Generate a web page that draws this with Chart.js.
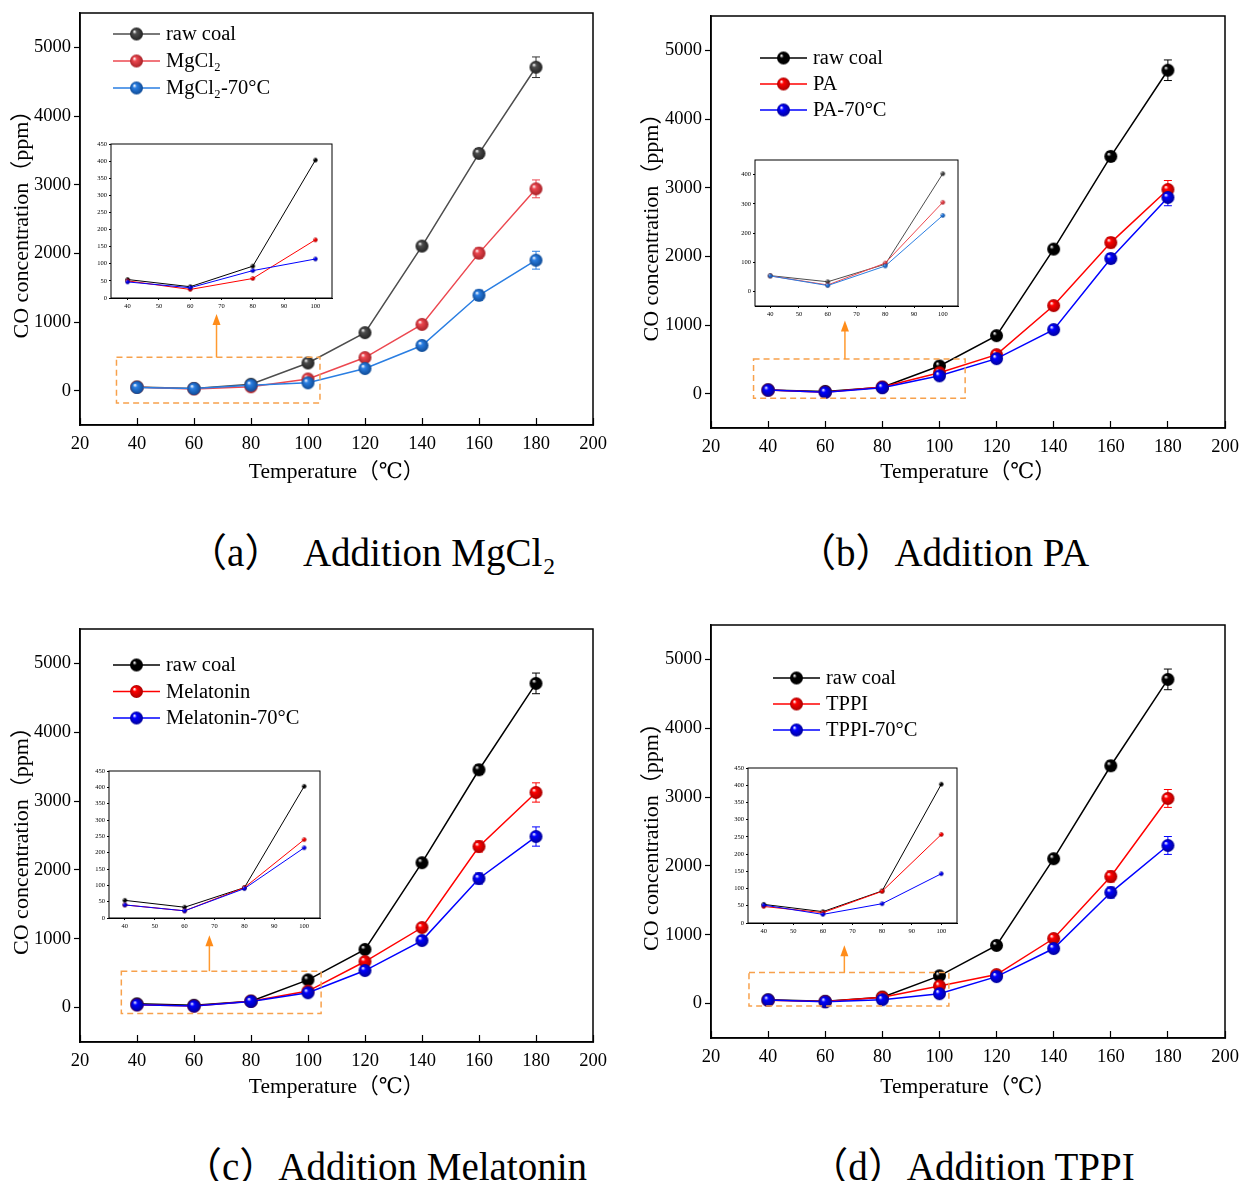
<!DOCTYPE html>
<html>
<head>
<meta charset="utf-8">
<script src="https://cdn.jsdelivr.net/npm/chart.js@4.4.1/dist/chart.umd.min.js"></script>
<style>
  body { margin: 0; background: #fff; width: 1241px; height: 1181px; position: relative; overflow: hidden; }
  canvas { position: absolute; }
  .cap { position: absolute; font-family: "Liberation Serif", "Noto Sans CJK SC", serif; font-size: 39px; line-height: 39px; white-space: nowrap; transform: translateX(-50%); color: #000; }
</style>
</head>
<body>
<canvas id="mainA" width="610" height="500" style="left:0;top:0"></canvas>
<canvas id="mainB" width="621" height="500" style="left:620px;top:0"></canvas>
<canvas id="mainC" width="610" height="500" style="left:0;top:615px"></canvas>
<canvas id="mainD" width="621" height="500" style="left:620px;top:615px"></canvas>
<canvas id="insetA" width="252" height="176" style="left:86px;top:136px"></canvas>
<canvas id="insetB" width="236" height="168" style="left:730px;top:152px"></canvas>
<canvas id="insetC" width="244" height="169" style="left:84px;top:763px"></canvas>
<canvas id="insetD" width="242" height="177" style="left:723px;top:760px"></canvas>
<div class="cap" style="left:372px;top:533px">（a）　Addition MgCl₂</div>
<div class="cap" style="left:943px;top:533px">（b）Addition PA</div>
<div class="cap" style="left:385px;top:1147px">（c）Addition Melatonin</div>
<div class="cap" style="left:972px;top:1147px">（d）Addition TPPI</div>
<script>
// temperatures (°C) and CO concentration (ppm)
const temps = [40, 60, 80, 100, 120, 140, 160, 180];
const rawCoal = [54, 33, 93, 403, 845, 2105, 3455, 4710];
const rawCoalErr = [12, 10, 15, 25, 35, 45, 70, 150];
const mgcl2 = [50, 25, 57, 170, 482, 965, 2003, 2939];
const mgcl2Err = [10, 8, 12, 20, 30, 40, 75, 130];
const mgcl2_70 = [47, 30, 80, 114, 322, 658, 1389, 1900];
const mgcl2_70Err = [10, 8, 12, 18, 28, 40, 75, 130];
const pa = [53, 22, 97, 305, 568, 1283, 2200, 2974];
const paErr = [10, 8, 12, 20, 30, 40, 75, 130];
const pa70 = [53, 20, 87, 260, 510, 933, 1968, 2857];
const pa70Err = [10, 8, 12, 20, 30, 40, 70, 120];
const melatonin = [40, 22, 93, 240, 669, 1163, 2340, 3125];
const melatoninErr = [10, 8, 12, 20, 30, 40, 80, 140];
const melatonin70 = [40, 22, 90, 215, 538, 974, 1875, 2485];
const melatonin70Err = [10, 8, 12, 20, 30, 40, 80, 140];
const tppi = [48, 30, 92, 257, 421, 945, 1846, 2980];
const tppiErr = [10, 8, 12, 20, 30, 40, 80, 130];
const tppi70 = [52, 25, 56, 143, 392, 800, 1613, 2297];
const tppi70Err = [10, 8, 12, 20, 30, 40, 80, 130];

const xTicks = [20, 40, 60, 80, 100, 120, 140, 160, 180, 200];
const yTicks = [0, 1000, 2000, 3000, 4000, 5000];
const insetXTicks = [40, 50, 60, 70, 80, 90, 100];
const insetYTicks = [0, 50, 100, 150, 200, 250, 300, 350, 400, 450];
const insetYTicksPA = [0, 100, 200, 300, 400];

const SERIF = '"Liberation Serif", "DejaVu Serif", "Noto Sans CJK SC", serif';

// colours
const C = {
  black: ['#000000', '#000000'],
  gray: ['#4d4d4d', '#222222'],
  red: ['#ff0000', '#a80000'],
  lred: ['#ec4850', '#a82228'],
  blue: ['#0000ff', '#00009a'],
  lblue: ['#2a7ee2', '#0f4b96']
};

// shaded ball marker
function ball(col, r) {
  const c = document.createElement('canvas');
  const s = Math.ceil(r * 2 + 2);
  c.width = c.height = s;
  const g = c.getContext('2d');
  const m = s / 2;
  const grad = g.createRadialGradient(m - r * 0.35, m - r * 0.4, r * 0.05, m, m, r);
  grad.addColorStop(0, '#ffffff');
  grad.addColorStop(0.28, col[0]);
  grad.addColorStop(1, col[1]);
  g.fillStyle = grad;
  g.beginPath();
  g.arc(m, m, r, 0, Math.PI * 2);
  g.fill();
  return c;
}

const borderBox = {
  id: 'borderBox',
  beforeDatasetsDraw(chart) {
    const a = chart.chartArea, ctx = chart.ctx;
    ctx.save();
    ctx.fillStyle = '#fff';
    if (chart.options.plugins.borderBox.fill) ctx.fillRect(a.left, a.top, a.right - a.left, a.bottom - a.top);
    ctx.restore();
  },
  afterDraw(chart) {
    const a = chart.chartArea, ctx = chart.ctx;
    ctx.save();
    ctx.strokeStyle = '#000';
    ctx.lineWidth = chart.options.plugins.borderBox.width;
    ctx.strokeRect(a.left, a.top, a.right - a.left, a.bottom - a.top);
    ctx.restore();
  }
};

// vertical error bars with caps
const errorBars = {
  id: 'errorBars',
  beforeDatasetsDraw(chart) {
    const ctx = chart.ctx, ys = chart.scales.y;
    chart.data.datasets.forEach((ds, di) => {
      if (!ds.errors) return;
      const meta = chart.getDatasetMeta(di);
      ctx.save();
      ctx.strokeStyle = ds.errColor;
      ctx.lineWidth = 1;
      meta.data.forEach((pt, i) => {
        const v = ds.data[i].y, e = ds.errors[i];
        const y0 = ys.getPixelForValue(v + e), y1 = ys.getPixelForValue(v - e);
        ctx.beginPath();
        ctx.moveTo(pt.x, y0); ctx.lineTo(pt.x, y1);
        ctx.moveTo(pt.x - 4, y0); ctx.lineTo(pt.x + 4, y0);
        ctx.moveTo(pt.x - 4, y1); ctx.lineTo(pt.x + 4, y1);
        ctx.stroke();
      });
      ctx.restore();
    });
  }
};

// legend drawn inside the plot area: line with ball + label
const innerLegend = {
  id: 'innerLegend',
  afterDraw(chart) {
    const o = chart.options.plugins.innerLegend;
    if (!o || !o.show) return;
    const a = chart.chartArea, ctx = chart.ctx;
    ctx.save();
    ctx.font = '20.5px ' + SERIF;
    ctx.textBaseline = 'middle';
    ctx.fillStyle = '#000';
    chart.data.datasets.forEach((ds, i) => {
      const x = a.left + o.dx, y = a.top + o.dy + i * o.gap;
      ctx.strokeStyle = ds.borderColor;
      ctx.lineWidth = 1.5;
      ctx.beginPath(); ctx.moveTo(x, y); ctx.lineTo(x + 47, y); ctx.stroke();
      const img = ds.pointStyle;
      ctx.drawImage(img, x + 23.5 - img.width / 2, y - img.height / 2);
      ctx.fillText(ds.label, x + 53, y + 1);
    });
    ctx.restore();
  }
};

// dashed zoom box and arrow pointing to the inset
const zoomBox = {
  id: 'zoomBox',
  afterDraw(chart) {
    const o = chart.options.plugins.zoomBox;
    if (!o || !o.box) return;
    const xs = chart.scales.x, ys = chart.scales.y, ctx = chart.ctx;
    const b = o.box;
    const l = xs.getPixelForValue(b[0]), r = xs.getPixelForValue(b[1]);
    const t = ys.getPixelForValue(b[3]), btm = ys.getPixelForValue(b[2]);
    ctx.save();
    ctx.strokeStyle = '#f7a14c';
    ctx.lineWidth = 1.5;
    ctx.setLineDash([6, 4]);
    ctx.strokeRect(l, t, r - l, btm - t);
    ctx.setLineDash([]);
    const ax = xs.getPixelForValue(o.arrow[0]), tip = ys.getPixelForValue(o.arrow[1]);
    ctx.strokeStyle = '#ff9a30';
    ctx.fillStyle = '#ff8c1a';
    ctx.beginPath(); ctx.moveTo(ax, t); ctx.lineTo(ax, tip + 9); ctx.stroke();
    ctx.beginPath(); ctx.moveTo(ax, tip); ctx.lineTo(ax - 4, tip + 11); ctx.lineTo(ax + 4, tip + 11); ctx.closePath(); ctx.fill();
    ctx.restore();
  }
};

Chart.register(borderBox, errorBars, innerLegend, zoomBox);

// keep the plot area exactly where the layout padding puts it
function noEdgePad(s) {
  s.paddingLeft = 0; s.paddingRight = 0; s.paddingTop = 0; s.paddingBottom = 0;
}

function series(label, values, errors, col, r, order, withErr) {
  return {
    label: label,
    data: values.map((v, i) => ({ x: temps[i], y: v })),
    errors: withErr ? errors : null,
    errColor: col[0] === '#4d4d4d' ? '#333' : col[0],
    borderColor: col[0],
    backgroundColor: col[0],
    borderWidth: r > 3 ? 1.5 : 1,
    pointStyle: ball(col, r),
    pointRadius: r,
    pointHoverRadius: r,
    order: order,
    tension: 0
  };
}

function mainChart(id, sets, lay) {
  return new Chart(document.getElementById(id), {
    type: 'line',
    data: { datasets: sets.map((s, i) => series(s[0], s[1], s[2], s[3], 6.5, 2 - i, true)) },
    options: {
      responsive: false,
      animation: false,
      layout: { padding: { left: 0, right: lay.right, top: lay.top, bottom: 0 } },
      plugins: {
        legend: { display: false },
        tooltip: { enabled: false },
        borderBox: { width: 1.5, fill: false },
        innerLegend: { show: true, dx: lay.legend[0], dy: lay.legend[1], gap: lay.legend[2] },
        zoomBox: { box: lay.box, arrow: lay.arrow }
      },
      scales: {
        x: {
          type: 'linear', min: 20, max: 200,
          afterBuildTicks: s => { s.ticks = xTicks.map(v => ({ value: v })); },
          afterFit: s => { s.height = lay.xh; noEdgePad(s); },
          grid: { drawOnChartArea: false, drawTicks: true, tickLength: -7, tickWidth: 1.2, color: '#000' },
          border: { display: true, color: '#000', width: 1.5 },
          ticks: { color: '#000', font: { family: SERIF, size: 18.5 }, padding: 15, maxRotation: 0, callback: v => String(v) },
          title: { display: true, text: 'Temperature（℃）', color: '#000', font: { family: SERIF, size: 21.5 }, padding: { top: 0, bottom: 15 } }
        },
        y: {
          type: 'linear', min: -500, max: 5500,
          afterBuildTicks: s => { s.ticks = yTicks.map(v => ({ value: v })); },
          afterFit: s => { s.width = lay.yw; noEdgePad(s); },
          grid: { drawOnChartArea: false, drawTicks: true, tickLength: 6, tickWidth: 1.2, color: '#000' },
          border: { display: true, color: '#000', width: 1.5 },
          ticks: { color: '#000', font: { family: SERIF, size: 18.5 }, padding: 3, callback: v => String(v) },
          title: { display: true, text: 'CO concentration（ppm）', color: '#000', font: { family: SERIF, size: 22 }, padding: { top: lay.yt, bottom: 0 } }
        }
      }
    }
  });
}

function insetChart(id, sets, yMin, yTickList, lay) {
  return new Chart(document.getElementById(id), {
    type: 'line',
    data: { datasets: sets.map((s, i) => series(s[0], s[1].slice(0, 4), null, s[2], 2.2, 2 - i, false)) },
    options: {
      responsive: false,
      animation: false,
      layout: { padding: { left: 0, right: lay.right, top: lay.top, bottom: 0 } },
      plugins: {
        legend: { display: false },
        tooltip: { enabled: false },
        borderBox: { width: 1, fill: true },
        innerLegend: { show: false },
        zoomBox: {}
      },
      scales: {
        x: {
          type: 'linear', min: 34.7, max: 105.3,
          afterBuildTicks: s => { s.ticks = insetXTicks.map(v => ({ value: v })); },
          afterFit: s => { s.height = lay.xh; noEdgePad(s); },
          grid: { drawOnChartArea: false, drawTicks: true, tickLength: 2, color: '#000' },
          border: { display: true, color: '#000', width: 1 },
          ticks: { color: '#000', font: { family: SERIF, size: 6.5 }, padding: 2, maxRotation: 0, callback: v => String(v) }
        },
        y: {
          type: 'linear', min: yMin, max: 450,
          afterBuildTicks: s => { s.ticks = yTickList.map(v => ({ value: v })); },
          afterFit: s => { s.width = 25; noEdgePad(s); },
          grid: { drawOnChartArea: false, drawTicks: true, tickLength: 2, color: '#000' },
          border: { display: true, color: '#000', width: 1 },
          ticks: { color: '#000', font: { family: SERIF, size: 6.5 }, padding: 2, callback: v => String(v) }
        }
      }
    }
  });
}

// (a) MgCl2
mainChart('mainA', [
  ['raw coal', rawCoal, rawCoalErr, C.gray],
  ['MgCl₂', mgcl2, mgcl2Err, C.lred],
  ['MgCl₂-70°C', mgcl2_70, mgcl2_70Err, C.lblue]
], { right: 17, top: 13, xh: 75, yw: 80, yt: 9, legend: [33, 21, 27], box: [32.8, 104.2, -180, 485], arrow: [67.9, 1118] });

// (b) PA
mainChart('mainB', [
  ['raw coal', rawCoal, rawCoalErr, C.black],
  ['PA', pa, paErr, C.red],
  ['PA-70°C', pa70, pa70Err, C.blue]
], { right: 16, top: 16, xh: 72, yw: 91, yt: 19, legend: [49, 42, 26], box: [34.9, 109, -68, 506], arrow: [66.9, 1064] });

// (c) Melatonin
mainChart('mainC', [
  ['raw coal', rawCoal, rawCoalErr, C.black],
  ['Melatonin', melatonin, melatoninErr, C.red],
  ['Melatonin-70°C', melatonin70, melatonin70Err, C.blue]
], { right: 17, top: 14, xh: 73, yw: 80, yt: 9, legend: [33, 36, 26.5], box: [34.5, 104.6, -87, 528], arrow: [65.4, 1051] });

// (d) TPPI
mainChart('mainD', [
  ['raw coal', rawCoal, rawCoalErr, C.black],
  ['TPPI', tppi, tppiErr, C.red],
  ['TPPI-70°C', tppi70, tppi70Err, C.blue]
], { right: 16, top: 10, xh: 77, yw: 91, yt: 19, legend: [62, 53, 26], box: [33.3, 103.3, -35, 450], arrow: [66.7, 847] });

// insets: 40–100 ℃ close-up
insetChart('insetA', [['raw coal', rawCoal, C.black], ['MgCl₂', mgcl2, C.red], ['MgCl₂-70°C', mgcl2_70, C.blue]],
  0, insetYTicks, { right: 6, top: 8, xh: 14 });
insetChart('insetB', [['raw coal', rawCoal, C.gray], ['PA', pa, C.lred], ['PA-70°C', pa70, C.lblue]],
  -50, insetYTicksPA, { right: 8, top: 8, xh: 14 });
insetChart('insetC', [['raw coal', rawCoal, C.black], ['Melatonin', melatonin, C.red], ['Melatonin-70°C', melatonin70, C.blue]],
  0, insetYTicks, { right: 8, top: 8, xh: 14 });
insetChart('insetD', [['raw coal', rawCoal, C.black], ['TPPI', tppi, C.red], ['TPPI-70°C', tppi70, C.blue]],
  0, insetYTicks, { right: 8, top: 8, xh: 14 });
</script>
</body>
</html>
